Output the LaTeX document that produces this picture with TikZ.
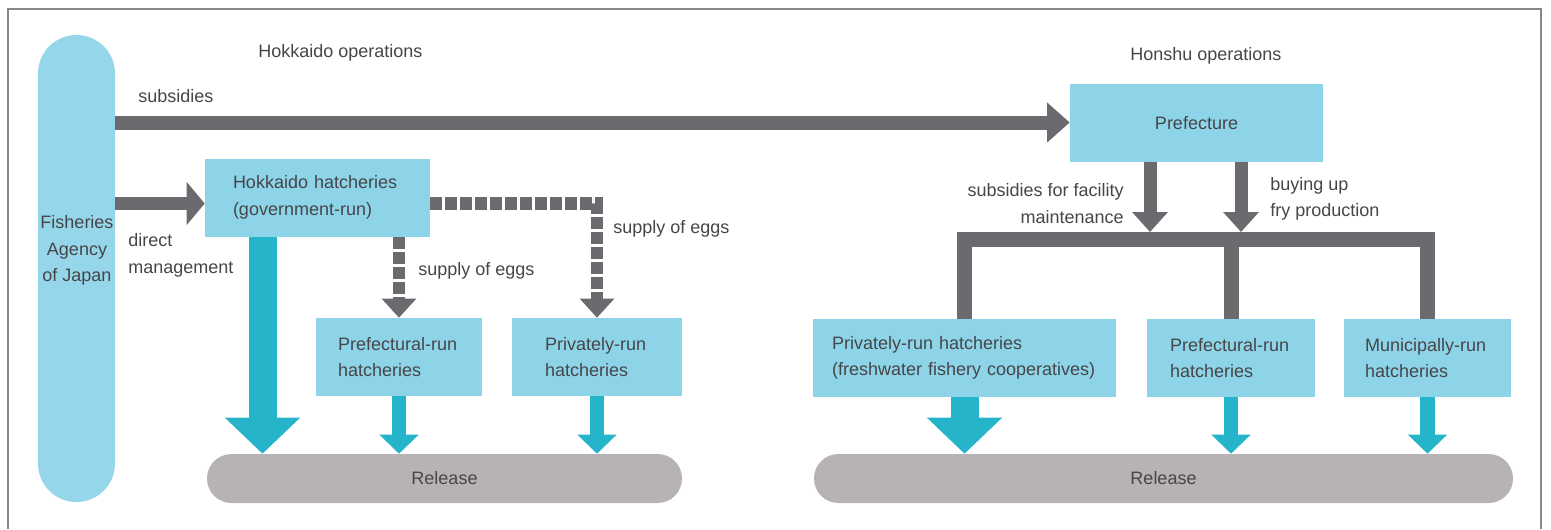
\documentclass[tikz,border=0pt]{standalone}
\usepackage{fontspec}
\setmainfont{Liberation Sans}
\usetikzlibrary{arrows.meta}
\definecolor{boxblue}{RGB}{142,212,233}
\definecolor{pillblue}{RGB}{150,214,234}
\definecolor{arrowgray}{RGB}{107,106,110}
\definecolor{fishcyan}{RGB}{38,180,202}
\definecolor{relgray}{RGB}{183,178,181}
\definecolor{txtgray}{RGB}{70,70,72}
\definecolor{framegray}{RGB}{140,135,135}
\begin{document}
\begin{tikzpicture}[x=0.75pt, y=-0.75pt,
    font=\fontsize{13.5}{20}\selectfont, text=txtgray,
    box/.style={fill=boxblue, inner ysep=0pt, minimum height=58.5pt, align=left},
    pill/.style={fill=relgray, inner sep=0pt, minimum height=36.75pt, rounded corners=18.3pt},
    lbl/.style={inner sep=0pt},
    subarrow/.style={draw=arrowgray, line width=10.5pt, -{Triangle[length=17pt, width=29pt]}},
    directarrow/.style={draw=arrowgray, line width=10pt, -{Triangle[length=13.5pt, width=31.5pt]}},
    downgray/.style={draw=arrowgray, line width=9.75pt, -{Triangle[length=15pt, width=26pt]}},
    eggarrow/.style={draw=arrowgray, line width=9.5pt, dash pattern=on 9pt off 2.25pt,
      -{Triangle[length=14.25pt, width=25pt]}},
    bracket/.style={draw=arrowgray, line width=11.25pt},
    bigcyan/.style={draw=fishcyan, line width=21pt, -{Triangle[length=27pt, width=54.75pt]}},
    smallcyan/.style={draw=fishcyan, line width=11pt, -{Triangle[length=14.25pt, width=28.5pt]}}]
  \useasboundingbox (0,0) rectangle (1551,529);
  \draw[framegray, line width=1.5pt] (8,529) -- (8,9) -- (1541,9) -- (1541,529);

  \coordinate (suby) at (0,122.5);
  \coordinate (diry) at (0,203.5);
  \coordinate (bigx) at (262.5,0);
  \coordinate (subx) at (1150,0);
  \coordinate (buyx) at (1241,0);
  \coordinate (bar) at (0,239.5);
  \coordinate (bartop) at (0,232);

  \node[fill=pillblue, inner sep=0pt, minimum width=57.75pt, minimum height=350.25pt,
    rounded corners=28.8pt] (agency) at (76.5,268.5) {};
  \node[lbl, align=center] (agencytxt) at (77,250.5) {Fisheries\\Agency\\of Japan};

  \node[lbl, anchor=base west] (hokkops) at (258,57) {Hokkaido operations};
  \node[lbl, anchor=base west] (honops) at (1130,60) {Honshu operations};

  \node[box, text width=126.75pt, inner xsep=21pt] (hokk) at (317.5,197.5)
    {Hokkaido hatcheries\\(government-run)};
  \node[box, text width=91.5pt, inner xsep=16.5pt] (prefL) at (399,357)
    {Prefectural-run\\hatcheries};
  \node[box, text width=78pt, inner xsep=24.75pt] (privL) at (597,357)
    {Privately-run\\hatcheries};
  \node[pill, minimum width=356.25pt] (relL) at (444.5,478.5) {Release};

  \node[box, minimum width=189.75pt, align=center] (prefecture) at (1196.5,123) {Prefecture};
  \node[box, text width=198.75pt, inner xsep=14.25pt] (privH) at (964.5,358)
    {Privately-run hatcheries\\(freshwater fishery cooperatives)};
  \node[box, text width=91.5pt, inner xsep=17.25pt] (prefH) at (1231,358)
    {Prefectural-run\\hatcheries};
  \node[box, text width=93.75pt, inner xsep=15.75pt] (muniH) at (1427.5,358)
    {Municipally-run\\hatcheries};
  \node[pill, minimum width=524.25pt] (relH) at (1163.5,478.5) {Release};

  \draw[subarrow] (agency.east |- suby) -- (prefecture.west |- suby)
    node[lbl, pos=0, anchor=base west, xshift=12pt, yshift=15pt] (sublbl) {subsidies};
  \draw[directarrow] (agency.east |- diry) -- (hokk.west |- diry);
  \node[lbl, align=left, anchor=west] (directlbl) at (128,255.5) {direct\\management};

  \draw[eggarrow] (hokk.east |- diry) -- (privL.north |- diry) -- (privL.north);
  \draw[eggarrow] (prefL.north |- hokk.south) -- (prefL.north);
  \node[lbl, anchor=base west] (eggsR) at (613,233) {supply of eggs};
  \node[lbl, anchor=base west] (eggsL) at (418,275) {supply of eggs};

  \draw[bigcyan] (bigx |- hokk.south) -- (bigx |- relL.north);
  \draw[smallcyan] (prefL.south) -- (prefL.south |- relL.north);
  \draw[smallcyan] (privL.south) -- (privL.south |- relL.north);

  \draw[downgray] (subx |- prefecture.south) -- (subx |- bartop);
  \draw[downgray] (buyx |- prefecture.south) -- (buyx |- bartop);
  \node[lbl, align=right, anchor=east] (facilitylbl) at (1124,203.5)
    {subsidies for facility\\maintenance};
  \node[lbl, align=left, anchor=west] (buyinglbl) at (1270,199)
    {buying up\\fry production};
  \draw[bracket] (privH.north) -- (privH.north |- bar) -- (muniH.north |- bar) -- (muniH.north);
  \draw[bracket] (prefH.north) -- (prefH.north |- bar);

  \draw[bigcyan] (privH.south) -- (privH.south |- relH.north);
  \draw[smallcyan] (prefH.south) -- (prefH.south |- relH.north);
  \draw[smallcyan] (muniH.south) -- (muniH.south |- relH.north);
\end{tikzpicture}
\end{document}
